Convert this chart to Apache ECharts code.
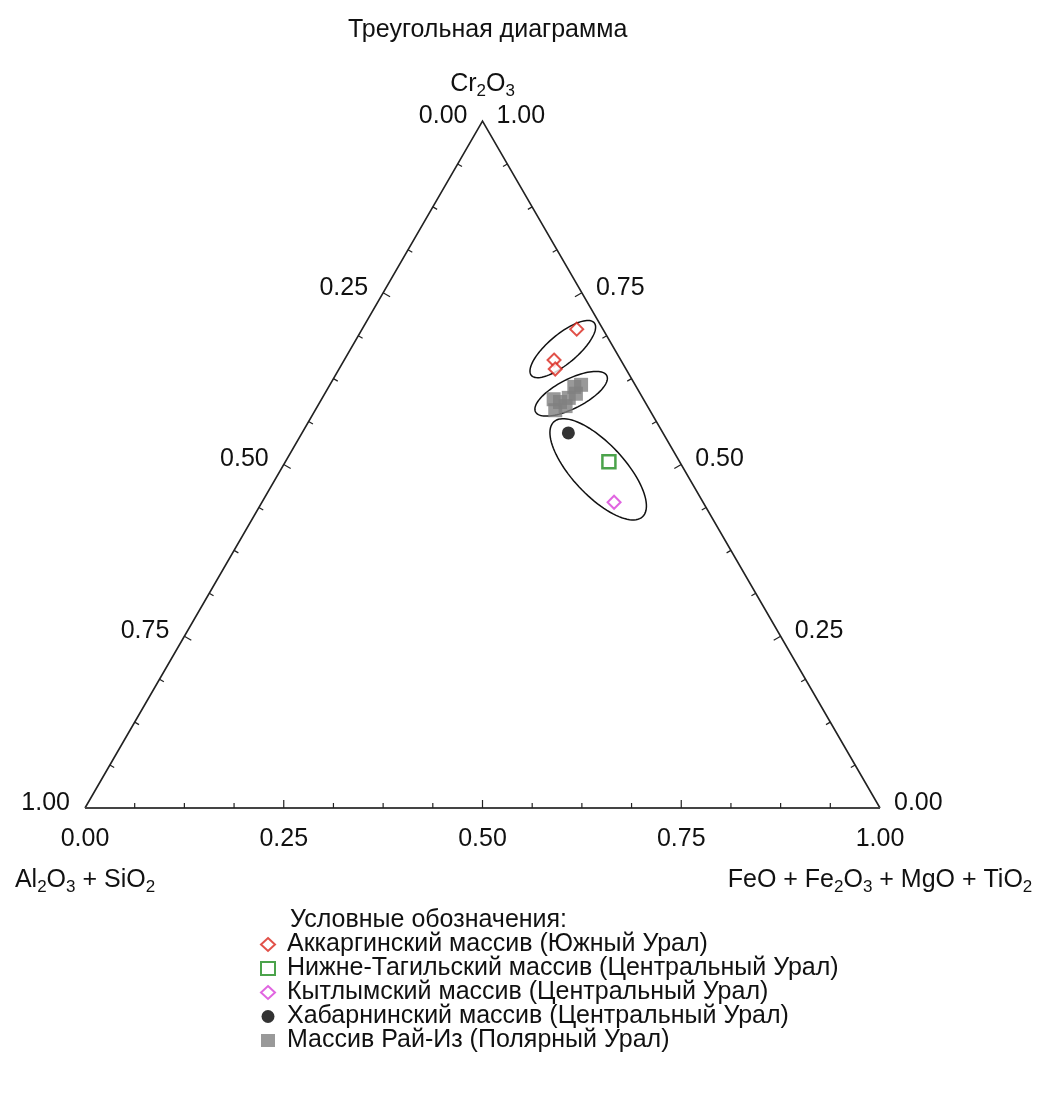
<!DOCTYPE html>
<html><head><meta charset="utf-8">
<script src="https://cdn.jsdelivr.net/npm/echarts@6/dist/echarts.min.js"></script>
<style>html,body{margin:0;padding:0;background:#fff}#c{width:1042px;height:1095px}</style>
</head><body><div id="c"></div>
<script>
// Compositions: [Al2O3+SiO2, Cr2O3, FeO+Fe2O3+MgO+TiO2]
const seriesNames = [
  'Аккаргинский массив (Южный Урал)',
  'Нижне-Тагильский массив (Центральный Урал)',
  'Кытлымский массив (Центральный Урал)',
  'Хабарнинский массив (Центральный Урал)',
  'Массив Рай-Из (Полярный Урал)'
];
const akkarga = [[0.033,0.697,0.270],[0.084,0.652,0.264],[0.089,0.639,0.272]];
const nizhneTagil = [[0.089,0.504,0.407]];
const kytlym = [[0.112,0.445,0.443]];
const khabarny = [[0.119,0.546,0.335]];
const raiIz = [[0.113,0.595,0.292],[0.119,0.579,0.302],[0.103,0.585,0.312],[0.093,0.597,0.310],
               [0.078,0.613,0.309],[0.068,0.616,0.316],[0.081,0.603,0.316],[0.107,0.591,0.302]];
// Enclosing ellipses: [Al, Cr, Fe (centre), semi-major, semi-minor, angle in degrees]
const ellipses = [[0.065,0.668,0.267,0.0516,0.0185,40],[0.087,0.603,0.310,0.0503,0.0185,27],[0.108,0.493,0.399,0.0818,0.0327,-47]];
const tickValues = [0, 0.25, 0.5, 0.75, 1];
const tickLabels = ['0.00','0.25','0.50','0.75','1.00'];
const minorStep = 0.0625;
const axisNames = ['Al{s|2}O{s|3} + SiO{s|2}', 'Cr{s|2}O{s|3}', 'FeO + Fe{s|2}O{s|3} + MgO + TiO{s|2}'];
const titleText = 'Треугольная диаграмма';
const legendTitle = 'Условные обозначения:';

const H = Math.sqrt(3) / 2;
const FONT = "'Liberation Sans', Arial, sans-serif";
function toXY(c) { return [c[2] + c[1] / 2, c[1] * H]; }

const chart = echarts.init(document.getElementById('c'));

function frameRender(params, api) {
  const A = api.coord([0, 0]), F = api.coord([1, 0]), C = api.coord([0.5, H]);
  const cen = [(A[0] + F[0] + C[0]) / 3, (A[1] + F[1] + C[1]) / 3];
  const children = [];
  children.push({type: 'polyline', shape: {points: [F, C, A]}, style: {fill: 'none', stroke: '#222', lineWidth: 1.6}});
  children.push({type: 'line', shape: {x1: A[0], y1: A[1], x2: F[0], y2: F[1]}, style: {stroke: '#444', lineWidth: 2.2}});
  function ticks(pointAt) {
    for (let i = 1; i < Math.round(1 / minorStep); i++) {
      const t = i * minorStep;
      const p = api.coord(pointAt(t));
      const q = api.coord(pointAt(t + 0.001));
      let dx = q[0] - p[0], dy = q[1] - p[1];
      const len = Math.hypot(dx, dy);
      let nx = -dy / len, ny = dx / len;
      if ((cen[0] - p[0]) * nx + (cen[1] - p[1]) * ny < 0) { nx = -nx; ny = -ny; }
      const L = (Math.abs(t * 4 - Math.round(t * 4)) < 1e-6) ? 8 : 5;
      children.push({type: 'line', shape: {x1: p[0], y1: p[1], x2: p[0] + nx * L, y2: p[1] + ny * L},
        style: {stroke: '#222', lineWidth: 1.2}});
    }
  }
  ticks(t => [t, 0]);                 // bottom edge (Fe)
  ticks(t => [1 - t / 2, t * H]);     // right edge (Cr)
  ticks(t => [t / 2, t * H]);         // left edge
  const ts = {fontSize: 25, fontFamily: FONT, fill: '#111'};
  tickValues.forEach((v, i) => {
    const b = api.coord([v, 0]);
    children.push({type: 'text', x: b[0], y: b[1] + 31, style: Object.assign({text: tickLabels[i], align: 'center', verticalAlign: 'middle'}, ts)});
    const l = api.coord([(1 - v) / 2, (1 - v) * H]);
    children.push({type: 'text', x: l[0] - 15, y: l[1] - 5, style: Object.assign({text: tickLabels[i], align: 'right', verticalAlign: 'middle'}, ts)});
    const r = api.coord([1 - v / 2, v * H]);
    children.push({type: 'text', x: r[0] + 14, y: r[1] - 5, style: Object.assign({text: tickLabels[i], align: 'left', verticalAlign: 'middle'}, ts)});
  });
  const rich = {n: {fontSize: 25, fontFamily: FONT, fill: '#111', lineHeight: 32, verticalAlign: 'middle'},
                s: {fontSize: 17, fontFamily: FONT, fill: '#111', lineHeight: 15, verticalAlign: 'bottom'}};
  function nameText(str, x, y) {
    const t = str.replace(/(^|\})([^{]+)/g, (m, a, b) => a + '{n|' + b + '}');
    children.push({type: 'text', x: x, y: y, style: {text: t, rich: rich, align: 'center', verticalAlign: 'middle', fontSize: 25, fontFamily: FONT}});
  }
  nameText(axisNames[0], A[0], A[1] + 72);
  nameText(axisNames[1], C[0], C[1] - 37);
  nameText(axisNames[2], F[0], F[1] + 72);
  return {type: 'group', children: children};
}

function ellipseRender(params, api) {
  const cx = api.value(0), cy = api.value(1), a = api.value(2), b = api.value(3), ang = api.value(4) * Math.PI / 180;
  const pts = [];
  for (let k = 0; k < 96; k++) {
    const th = 2 * Math.PI * k / 96;
    const dx = a * Math.cos(th) * Math.cos(ang) - b * Math.sin(th) * Math.sin(ang);
    const dy = a * Math.cos(th) * Math.sin(ang) + b * Math.sin(th) * Math.cos(ang);
    pts.push(api.coord([cx + dx, cy + dy]));
  }
  return {type: 'polygon', shape: {points: pts}, style: {fill: 'none', stroke: '#111', lineWidth: 1.5}};
}

function scatter(name, data, symbol, size, itemStyle) {
  return {type: 'scatter', name: name, data: data.map(toXY), symbol: symbol, symbolSize: size,
    itemStyle: itemStyle, emphasis: {disabled: true}, silent: true, z: 5};
}

chart.setOption({
  animation: false,
  backgroundColor: '#fff',
  title: [
    {text: titleText, left: 343, top: 13, textStyle: {fontSize: 25, fontWeight: 'normal', color: '#111', fontFamily: FONT}},
    {text: legendTitle, left: 285, top: 903, textStyle: {fontSize: 25, fontWeight: 'normal', color: '#111', fontFamily: FONT}}
  ],
  grid: {left: 85, top: 121, width: 795, height: 687},
  xAxis: {type: 'value', min: 0, max: 1, show: false},
  yAxis: {type: 'value', min: 0, max: H, show: false},
  legend: {orient: 'vertical', left: 255, top: 927, itemWidth: 14, itemHeight: 13, itemGap: -1,
    selectedMode: false, data: seriesNames,
    textStyle: {fontSize: 25, color: '#111', fontFamily: FONT, lineHeight: 24, padding: [0, 0, 0, 7]}},
  series: [
    {type: 'custom', renderItem: frameRender, data: [[0, 0]], silent: true, z: 1},
    {type: 'custom', renderItem: ellipseRender, silent: true, z: 2,
      data: ellipses.map(e => { const p = toXY(e); return [p[0], p[1], e[3], e[4], e[5]]; }),
      encode: {x: 0, y: 1}},
    scatter(seriesNames[0], akkarga, 'diamond', 13, {color: '#fff', borderColor: '#d9261c', borderWidth: 2}),
    scatter(seriesNames[1], nizhneTagil, 'rect', 13, {color: '#fff', borderColor: '#1e8c1e', borderWidth: 2.5}),
    scatter(seriesNames[2], kytlym, 'diamond', 13, {color: '#fff', borderColor: '#d83fd8', borderWidth: 2}),
    scatter(seriesNames[3], khabarny, 'circle', 13, {color: '#000'}),
    scatter(seriesNames[4], raiIz, 'rect', 14, {color: '#808080'})
  ]
});
</script></body></html>
